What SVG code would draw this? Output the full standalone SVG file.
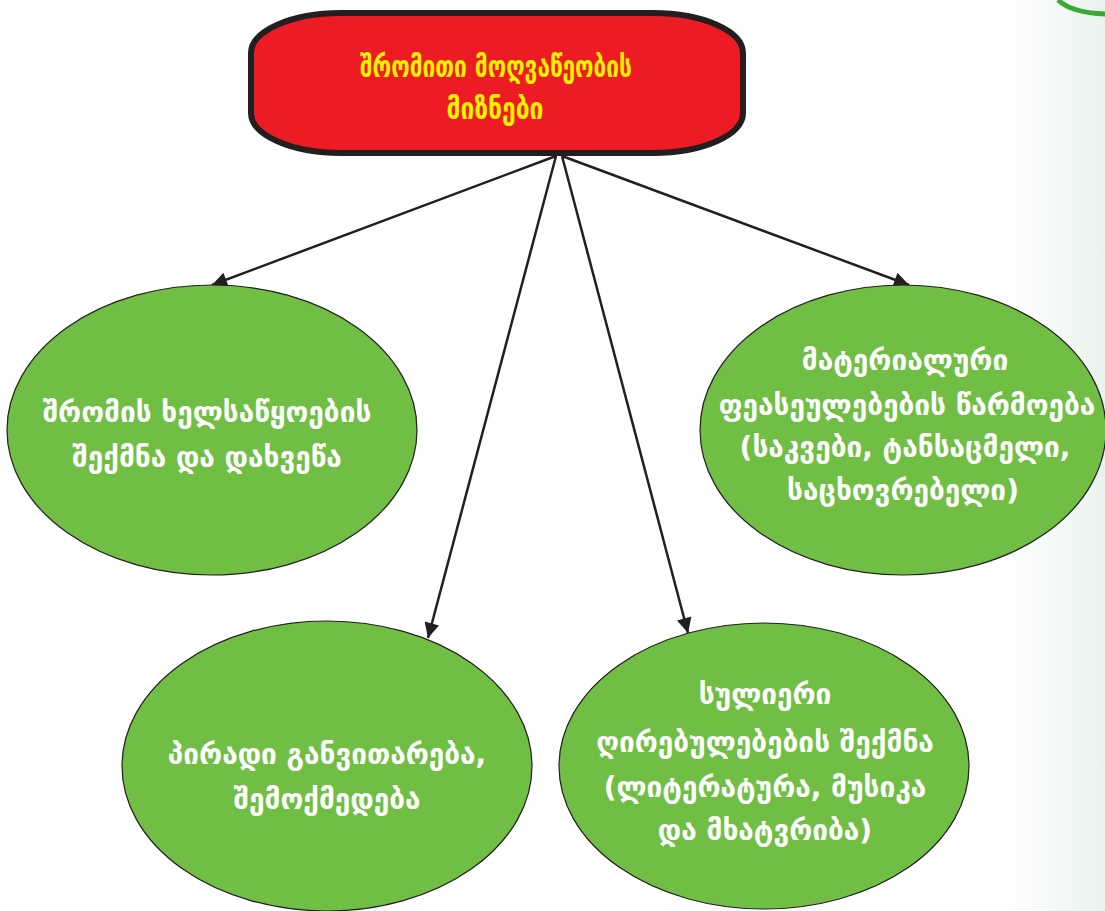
<svg xmlns="http://www.w3.org/2000/svg" width="1105" height="911" viewBox="0 0 1105 911">
  <defs>
    <linearGradient id="edge" x1="0" y1="0" x2="1" y2="0">
      <stop offset="0" stop-color="#ffffff"/>
      <stop offset="1" stop-color="#e9f3ee"/>
    </linearGradient>
    <marker id="arr" viewBox="0 0 10 10" refX="10" refY="5" markerWidth="7" markerHeight="6" markerUnits="strokeWidth" orient="auto">
      <path d="M0,0 L10,5 L0,10 Z" fill="#231f20"/>
    </marker>
    <style>
      .t { font-family: "DejaVu Sans", "Noto Sans", sans-serif; font-weight: bold; text-anchor: middle; }
      .w { fill: #ffffff; font-size: 28px; }
      .y { fill: #fff200; font-size: 30px; }
      .ell { fill: #70bf44; stroke: #231f20; stroke-width: 1.2; }
      .con { stroke: #231f20; stroke-width: 2.5; fill: none; }
    </style>
  </defs>
  <rect x="0" y="0" width="1105" height="911" fill="#ffffff"/>
  <rect x="1005" y="0" width="100" height="911" fill="url(#edge)"/>
  <path d="M1058,0 Q1072,13 1105,14" stroke="#3aaa35" stroke-width="5" fill="none"/>

  <g id="connectors">
    <line class="con" x1="556" y1="156" x2="212" y2="285" marker-end="url(#arr)"/>
    <line class="con" x1="562" y1="156" x2="909" y2="285" marker-end="url(#arr)"/>
    <line class="con" x1="556" y1="156" x2="428" y2="638" marker-end="url(#arr)"/>
    <line class="con" x1="562" y1="156" x2="688" y2="633" marker-end="url(#arr)"/>
  </g>

  <g id="root">
    <rect x="251" y="13" width="492" height="140" rx="90" ry="40" fill="#ed1c24" stroke="#231f20" stroke-width="6"/>
    <text class="t y" x="496" y="77" textLength="272" lengthAdjust="spacingAndGlyphs">შრომითი მოღვაწეობის</text>
    <text class="t y" x="495" y="119" textLength="97" lengthAdjust="spacingAndGlyphs">მიზნები</text>
  </g>

  <g id="n1">
    <ellipse class="ell" cx="212" cy="430" rx="205" ry="145"/>
    <text class="t w" x="207" y="422">შრომის ხელსაწყოების</text>
    <text class="t w" x="207" y="467">შექმნა და დახვეწა</text>
  </g>

  <g id="n2">
    <ellipse class="ell" cx="903" cy="430" rx="203" ry="145"/>
    <text class="t w" x="905" y="370">მატერიალური</text>
    <text class="t w" x="907" y="415">ფეასეულებების წარმოება</text>
    <text class="t w" x="905" y="457">(საკვები, ტანსაცმელი,</text>
    <text class="t w" x="903" y="500">საცხოვრებელი)</text>
  </g>

  <g id="n3">
    <ellipse class="ell" cx="327" cy="766" rx="205" ry="145"/>
    <text class="t w" x="327" y="764">პირადი განვითარება,</text>
    <text class="t w" x="327" y="809">შემოქმედება</text>
  </g>

  <g id="n4">
    <ellipse class="ell" cx="764" cy="766" rx="205" ry="143"/>
    <text class="t w" x="765" y="704">სულიერი</text>
    <text class="t w" x="765" y="752">ღირებულებების შექმნა</text>
    <text class="t w" x="765" y="797">(ლიტერატურა, მუსიკა</text>
    <text class="t w" x="765" y="840">და მხატვრიბა)</text>
  </g>
</svg>
